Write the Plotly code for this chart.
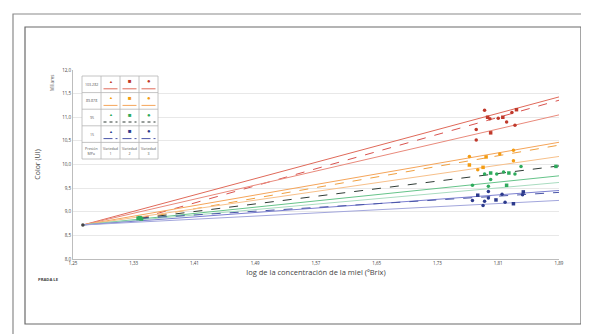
import plotly.graph_objects as go

# ---------------- data ----------------
x_ticks = [1.25, 1.33, 1.41, 1.49, 1.57, 1.65, 1.73, 1.81, 1.89]
y_ticks = [8.0, 8.5, 9.0, 9.5, 10.0, 10.5, 11.0, 11.5, 12.0]

groups = ["103.282", "89.878", "95", "15"]
varieties = ["Variedad 1", "Variedad 2", "Variedad 3"]

# common origin of the fitted lines
origin_x = [1.263]
origin_y = [8.72]
start2_x = [1.338]
start2_y = [8.86]
line_end_x = 1.89

# line end values (at x=1.89) per group: [solid 1, dashed, solid 2]
red_ends = [11.43, 11.36, 11.05]
orange_ends = [10.47, 10.41, 10.17]
green_ends = [9.76, 9.97, 9.62]
blue_ends = [9.45, 9.41, 9.24]

# measured points
red_x = [1.792, 1.796, 1.799, 1.810, 1.816, 1.821, 1.828, 1.834, 1.781, 1.781, 1.800, 1.832]
red_y = [11.15, 11.00, 10.97, 10.98, 11.00, 10.90, 11.10, 11.16, 10.74, 10.52, 10.67, 10.83]
orange_x = [1.772, 1.794, 1.812, 1.830, 1.772, 1.830, 1.783, 1.790]
orange_y = [10.17, 10.16, 10.22, 10.30, 9.99, 10.08, 9.89, 9.94]
green_x = [1.792, 1.800, 1.808, 1.817, 1.824, 1.832, 1.840, 1.886, 1.776, 1.797, 1.821, 1.800]
green_y = [9.80, 9.82, 9.80, 9.84, 9.82, 9.80, 9.96, 9.96, 9.56, 9.54, 9.56, 9.68]
blue_x = [1.776, 1.783, 1.792, 1.797, 1.807, 1.815, 1.819, 1.830, 1.790, 1.797, 1.843, 1.842]
blue_y = [9.24, 9.35, 9.22, 9.29, 9.25, 9.37, 9.20, 9.17, 9.13, 9.43, 9.42, 9.36]
low_x = [1.336, 1.340, 1.338]
low_y = [8.86, 8.85, 8.87]

# ---------------- styles ----------------
W, H = 589, 334
L, R, T, B = 65, 38, 62, 83
PW = W - L - R
PH = H - T - B


def px(x):
    return (x - L) / PW


def py(y):
    return (H - B - y) / PH


group_styles = [
    dict(ends=red_ends, lines=["#e06a5a", "#d9534f", "#e98a7c"], dash=["solid", "dash", "solid"],
         marker="#c0392b", px=red_x, py=red_y),
    dict(ends=orange_ends, lines=["#f5a55a", "#f0a040", "#f7c08a"], dash=["solid", "dash", "solid"],
         marker="#f39c12", px=orange_x, py=orange_y),
    dict(ends=green_ends, lines=["#66c48a", "#2f3b35", "#a9dcc0"], dash=["solid", "dash", "solid"],
         marker="#2eaa5c", px=green_x, py=green_y),
    dict(ends=blue_ends, lines=["#7b7fd0", "#4a56a8", "#a2a6dc"], dash=["solid", "dash", "solid"],
         marker="#2c3a8c", px=blue_x, py=blue_y),
]
symbols = ["circle", "square", "circle"]

fig = go.Figure()

for gi, g in enumerate(group_styles):
    for k in range(3):
        if k == 1:
            xs = [start2_x[0], line_end_x]
            ys = [start2_y[0], g["ends"][k]]
        else:
            xs = [origin_x[0], line_end_x]
            ys = [origin_y[0], g["ends"][k]]
        fig.add_trace(go.Scatter(x=xs, y=ys, mode="lines",
                                 line=dict(color=g["lines"][k], width=1.0, dash=g["dash"][k]),
                                 showlegend=False, hoverinfo="skip"))
    for k in range(3):
        xs = g["px"][k::3]
        ys = g["py"][k::3]
        fig.add_trace(go.Scatter(x=xs, y=ys, mode="markers",
                                 marker=dict(color=g["marker"], size=3.5, symbol=symbols[k]),
                                 showlegend=False))

fig.add_trace(go.Scatter(x=low_x, y=low_y, mode="markers",
                         marker=dict(color="#2eaa5c", size=4, symbol="square"), showlegend=False))
fig.add_trace(go.Scatter(x=origin_x, y=origin_y, mode="markers",
                         marker=dict(color="#444444", size=3.5), showlegend=False))

shapes = []
annotations = []

# outer and inner frames
shapes.append(dict(type="rect", xref="paper", yref="paper", x0=px(5), x1=px(584), y0=py(6), y1=py(328),
                   line=dict(color="#8a8a8a", width=1.2), layer="below"))
shapes.append(dict(type="rect", xref="paper", yref="paper", x0=px(17), x1=px(573), y0=py(19), y1=py(316),
                   line=dict(color="#6a6a6a", width=1.2), layer="below"))

# legend table
tx0, ty0 = 74, 68
col_w = [19, 19, 19, 19]
row_h = 16.6
cols = [tx0]
for w_ in col_w:
    cols.append(cols[-1] + w_)
rows = [ty0 + i * row_h for i in range(6)]
shapes.append(dict(type="rect", xref="paper", yref="paper", x0=px(cols[0]), x1=px(cols[-1]),
                   y0=py(rows[0]), y1=py(rows[-1]), line=dict(color="#b5b5b5", width=0.8),
                   fillcolor="white"))
for c in cols[1:-1]:
    shapes.append(dict(type="line", xref="paper", yref="paper", x0=px(c), x1=px(c),
                       y0=py(rows[0]), y1=py(rows[-1]), line=dict(color="#b5b5b5", width=0.8)))
for r in rows[1:-1]:
    shapes.append(dict(type="line", xref="paper", yref="paper", x0=px(cols[0]), x1=px(cols[-1]),
                       y0=py(r), y1=py(r), line=dict(color="#b5b5b5", width=0.8)))

small = dict(family="Open Sans, Arial", size=3.6, color="#555555")
marker_chars = ["▲", "■", "●"]
marker_sizes = [4, 6, 6]
legend_dash = [["solid"] * 3, ["solid"] * 3, ["dot"] * 3, ["dashdot"] * 3]


def ann(x, y, text, font, angle=0):
    annotations.append(dict(x=px(x), y=py(y), xref="paper", yref="paper", text=text,
                            showarrow=False, font=font, xanchor="center", yanchor="middle",
                            textangle=angle))


for ri, gname in enumerate(groups):
    cy = (rows[ri] + rows[ri + 1]) / 2
    ann((cols[0] + cols[1]) / 2, cy, gname, small)
    g = group_styles[ri]
    for ci in range(3):
        cx = (cols[ci + 1] + cols[ci + 2]) / 2
        ann(cx, cy - 3, marker_chars[ci], dict(size=marker_sizes[ci], color=g["marker"]))
        lc = g["lines"][0] if ri < 2 else g["lines"][1]
        shapes.append(dict(type="line", xref="paper", yref="paper", x0=px(cx - 7), x1=px(cx + 7),
                           y0=py(cy + 4.5), y1=py(cy + 4.5),
                           line=dict(color=lc, width=1, dash=legend_dash[ri][ci])))
cy = (rows[4] + rows[5]) / 2
ann((cols[0] + cols[1]) / 2, cy, "Presión<br>MPa", small)
for ci, v in enumerate(varieties):
    cx = (cols[ci + 1] + cols[ci + 2]) / 2
    ann(cx, cy, v.replace(" ", "<br>"), small)

# extra labels
ann(44, 75, "Miliares", dict(family="Open Sans, Arial", size=4.5, color="#555555"), angle=-90)
ann(40, 271, "<b>PRADA LE</b>", dict(family="Open Sans, Arial", size=4.2, color="#444444"))

fig.update_layout(
    width=W, height=H,
    margin=dict(l=L, r=R, t=T, b=B),
    paper_bgcolor="white", plot_bgcolor="white",
    separators=",.",
    shapes=shapes, annotations=annotations,
    xaxis=dict(range=[1.25, 1.89], tickvals=x_ticks, tickformat=".2f",
               showgrid=False, zeroline=False, showline=True, linecolor="#bdbdbd", linewidth=1,
               ticks="", tickfont=dict(family="Open Sans, Arial", size=4.5, color="#444444"),
               title=dict(text="log de la concentración de la miel (ºBrix)", standoff=4,
                          font=dict(family="Open Sans, Arial", size=7.5, color="#444444"))),
    yaxis=dict(range=[8.0, 12.0], tickvals=y_ticks, tickformat=".1f",
               showgrid=True, gridcolor="#e8e8e8", gridwidth=1, zeroline=False,
               showline=True, linecolor="#bdbdbd", linewidth=1, ticks="",
               tickfont=dict(family="Open Sans, Arial", size=4.5, color="#444444"),
               title=dict(text="Color (UI)", standoff=20,
                          font=dict(family="Open Sans, Arial", size=7, color="#444444"))),
    font=dict(family="Open Sans, Arial"),
)

fig.write_html("out.html")
